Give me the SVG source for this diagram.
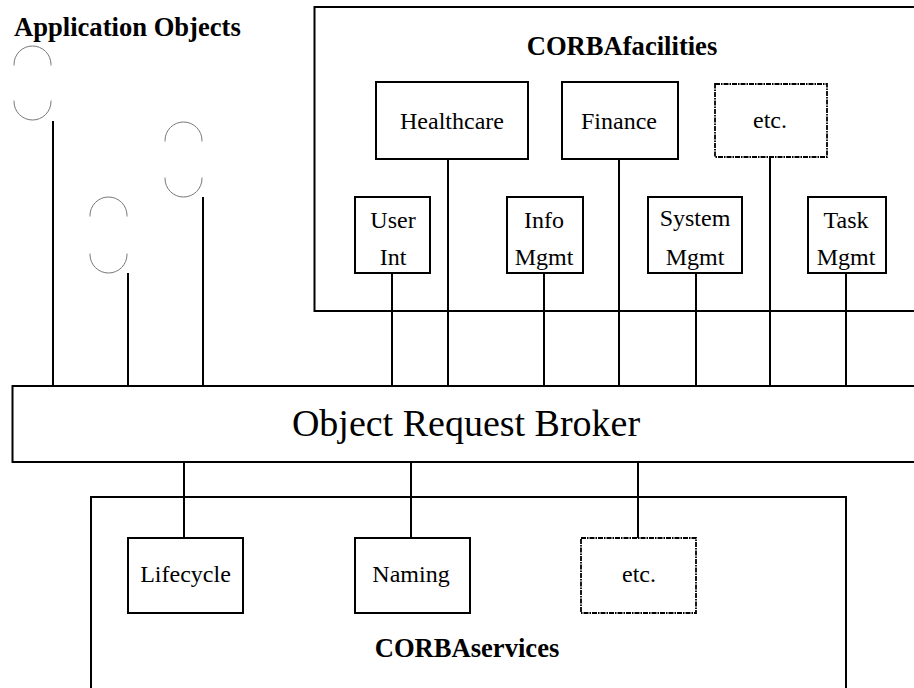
<svg xmlns="http://www.w3.org/2000/svg" width="914" height="688" viewBox="0 0 914 688">
  <style>
    .frame { fill: none; stroke: #000; stroke-width: 2; }
    .box { fill: #fff; stroke: #000; stroke-width: 2; }
    .dotted { fill: #fff; stroke: #000; stroke-width: 1.8; stroke-dasharray: 5 1 1.5 1; }
    .obj { fill: none; stroke: #777; stroke-width: 1; }
    .wire { stroke: #000; stroke-width: 2; fill: none; }
    .label { font-family: "Liberation Serif", "Times New Roman", serif; font-size: 24px; fill: #000; text-anchor: middle; }
    .title { font-family: "Liberation Serif", "Times New Roman", serif; font-size: 26.6px; font-weight: bold; fill: #000; }
    .orb { font-family: "Liberation Serif", "Times New Roman", serif; font-size: 38px; fill: #000; text-anchor: middle; }
  </style>
  <rect width="914" height="688" fill="#fff"/>

  <!-- connectors -->
  <g id="connectors" class="wire">
    <!-- application objects to ORB -->
    <line x1="53" y1="121" x2="53" y2="386"/>
    <line x1="128" y1="273" x2="128" y2="386"/>
    <line x1="203" y1="197" x2="203" y2="386"/>
    <!-- facilities to ORB -->
    <line x1="392" y1="273" x2="392" y2="386"/>
    <line x1="448" y1="159" x2="448" y2="386"/>
    <line x1="544" y1="273" x2="544" y2="386"/>
    <line x1="619" y1="159" x2="619" y2="386"/>
    <line x1="696" y1="273" x2="696" y2="386"/>
    <line x1="770" y1="157" x2="770" y2="386"/>
    <line x1="846" y1="273" x2="846" y2="386"/>
    <!-- ORB to services -->
    <line x1="184" y1="462" x2="184" y2="538"/>
    <line x1="411" y1="462" x2="411" y2="538"/>
    <line x1="638" y1="462" x2="638" y2="538"/>
  </g>

  <!-- application objects -->
  <g id="app-objects">
    <text class="title" x="14" y="36">Application Objects</text>
    <g id="app-obj-1" class="obj">
      <path d="M14,65.5 V64.5 A18.5,18.5 0 0 1 51,64.5 V65.5"/>
      <path d="M14,100.5 V101.5 A18.5,18.5 0 0 0 51,101.5 V100.5"/>
    </g>
    <g id="app-obj-2" class="obj">
      <path d="M90,216.5 V215.5 A18.5,18.5 0 0 1 127,215.5 V216.5"/>
      <path d="M90,253.5 V254.5 A18.5,18.5 0 0 0 127,254.5 V253.5"/>
    </g>
    <g id="app-obj-3" class="obj">
      <path d="M165,141.5 V140.5 A18.5,18.5 0 0 1 202,140.5 V141.5"/>
      <path d="M165,177.5 V178.5 A18.5,18.5 0 0 0 202,178.5 V177.5"/>
    </g>
  </g>

  <!-- CORBAfacilities -->
  <g id="corbafacilities">
    <path class="frame" d="M914,7 H314.5 V311 H914"/>
    <text class="title" x="622" y="55" text-anchor="middle">CORBAfacilities</text>
  </g>
  <g id="healthcare">
    <rect class="box" x="376" y="82" width="152" height="77"/>
    <text class="label" x="452" y="129">Healthcare</text>
  </g>
  <g id="finance">
    <rect class="box" x="562" y="82" width="116" height="77"/>
    <text class="label" x="619" y="129">Finance</text>
  </g>
  <g id="facilities-etc">
    <rect class="dotted" x="715" y="84" width="112" height="73"/>
    <text class="label" x="770" y="128">etc.</text>
  </g>
  <g id="user-int">
    <rect class="box" x="355" y="197" width="75" height="76"/>
    <text class="label" x="393" y="228">User</text>
    <text class="label" x="393" y="265">Int</text>
  </g>
  <g id="info-mgmt">
    <rect class="box" x="507" y="197" width="76" height="76"/>
    <text class="label" x="544" y="228">Info</text>
    <text class="label" x="544" y="265">Mgmt</text>
  </g>
  <g id="system-mgmt">
    <rect class="box" x="648" y="197" width="94" height="76"/>
    <text class="label" x="695" y="226">System</text>
    <text class="label" x="695" y="265">Mgmt</text>
  </g>
  <g id="task-mgmt">
    <rect class="box" x="808" y="197" width="78" height="76"/>
    <text class="label" x="846" y="228">Task</text>
    <text class="label" x="846" y="265">Mgmt</text>
  </g>

  <!-- Object Request Broker -->
  <g id="orb">
    <path class="frame" d="M914,386 H12.5 V462 H914"/>
    <text class="orb" x="466" y="436">Object Request Broker</text>
  </g>

  <!-- CORBAservices -->
  <g id="corbaservices">
    <path class="frame" d="M91,688 V497 H846 V688"/>
    <text class="title" x="467" y="657" text-anchor="middle">CORBAservices</text>
  </g>
  <g id="lifecycle">
    <rect class="box" x="128" y="538" width="115" height="75"/>
    <text class="label" x="185.5" y="582">Lifecycle</text>
  </g>
  <g id="naming">
    <rect class="box" x="355" y="538" width="115" height="75"/>
    <text class="label" x="411" y="582">Naming</text>
  </g>
  <g id="services-etc">
    <rect class="dotted" x="581" y="538" width="115" height="75"/>
    <text class="label" x="639" y="582">etc.</text>
  </g>
</svg>
